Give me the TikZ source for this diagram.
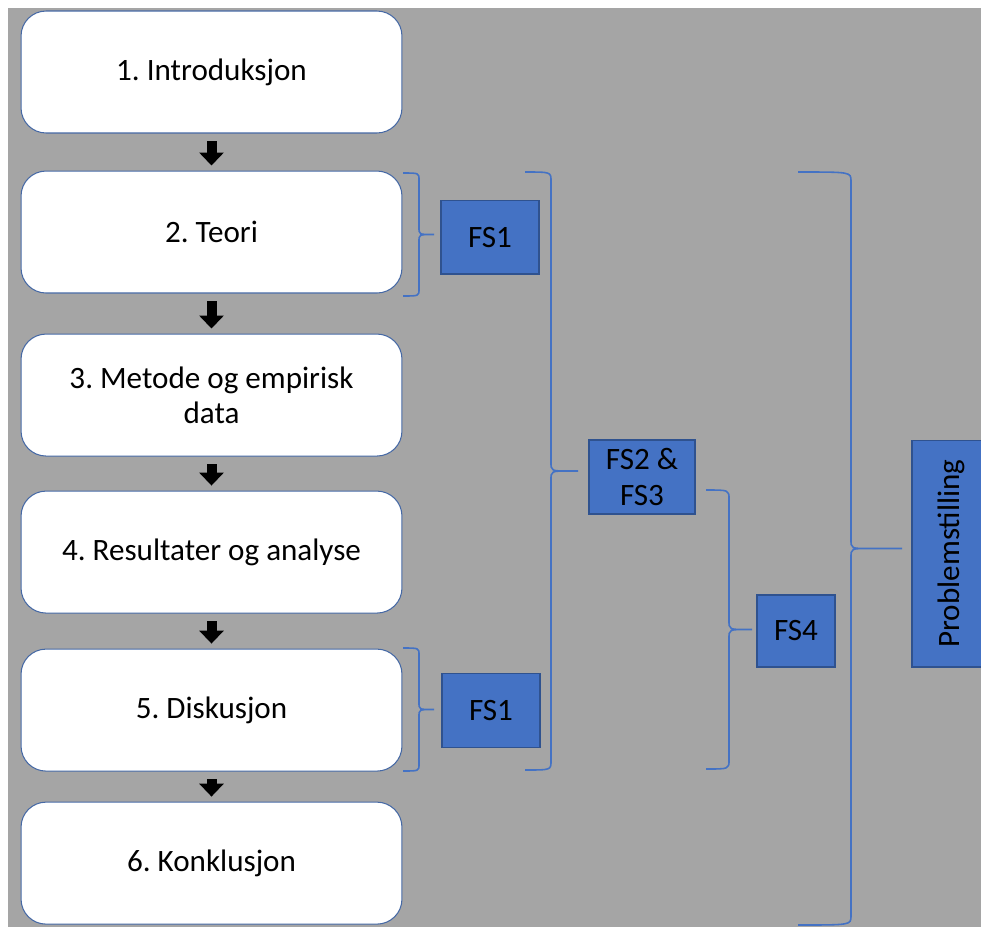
\documentclass[tikz,border=0pt]{standalone}
\usepackage{fontspec}
\setmainfont{Carlito}
\frenchspacing
\usetikzlibrary{arrows.meta,positioning}
\definecolor{bggray}{RGB}{165,165,165}
\definecolor{fsblue}{RGB}{68,114,196}
\definecolor{fsedge}{RGB}{47,82,143}
\definecolor{chapedge}{RGB}{70,105,165}

% right brace: x end, x spine, x tip, y top, y bottom, curl
\newcommand{\fsbrace}[6]{%
  \draw[brc] (#1,#4) .. controls (#2,#4) .. (#2,#4+#6)
    -- (#2,{(#4+#5)/2-#6}) .. controls (#2,{(#4+#5)/2}) .. (#2+2*#6,{(#4+#5)/2})
    -- (#3,{(#4+#5)/2}) -- (#2+2*#6,{(#4+#5)/2})
    .. controls (#2,{(#4+#5)/2}) .. (#2,{(#4+#5)/2+#6})
    -- (#2,#5-#6) .. controls (#2,#5) .. (#1,#5);}

\begin{document}
\begin{tikzpicture}[
        x=0.02cm, y=-0.02cm,
        node distance=0.7cm,
        chap/.style={draw=chapedge, line width=0.6pt, fill=white, rounded corners=0.5cm, minimum width=7.62cm, minimum height=2.44cm, align=center, font=\fontsize{17.7}{20}\selectfont},
        fs/.style={draw=fsedge, line width=0.6pt, fill=fsblue, align=center, font=\fontsize{17.7}{20}\selectfont},
        blk/.style={-{Triangle[length=0.26cm, width=0.48cm]}, line width=0.2cm, shorten <=0.15cm, shorten >=0.1cm},
        brc/.style={draw=fsblue, line width=0.9pt}
      ]
        \useasboundingbox (0,0) rectangle (981,927);
        \clip (0,0) rectangle (981,927);
        \fill[bggray] (8,8) rectangle (981,927);

        \node[chap] (intro) at (211.5,72) {1. Introduksjon};
        \node[chap, below=0.74cm of intro] (teori) {2. Teori};
        \node[chap, below=0.80cm of teori] (metode) {3. Metode og empirisk\\data};
        \node[chap, below=0.68cm of metode] (result) {4. Resultater og analyse};
        \node[chap, below=0.70cm of result] (disk) {5. Diskusjon};
        \node[chap, below=0.60cm of disk] (konkl) {6. Konklusjon};

        \foreach \a/\b in {intro/teori, teori/metode, metode/result, result/disk, disk/konkl}
          \draw[blk] (\a) -- (\b);

        \node[fs, minimum width=1.96cm, minimum height=1.48cm, right=0.76cm of teori, yshift=-0.1cm] (fs1a) {FS1};
        \node[fs, minimum width=1.96cm, minimum height=1.48cm, right=0.78cm of disk] (fs1b) {FS1};
        \node[fs, minimum width=2.12cm, minimum height=1.48cm] (fs23) at (642,477) {FS2 \&\\FS3};
        \node[fs, minimum width=1.56cm, minimum height=1.44cm] (fs4) at (796,631) {FS4};
        \node[fs, rotate=90, minimum width=4.54cm, minimum height=1.56cm] (prob) at (951,553.5) {Problemstilling};

        \fsbrace{403}{419}{434}{173}{296}{7}
        \fsbrace{403}{419}{434}{648}{771}{7}
        \fsbrace{525}{551}{578}{172}{770}{9}
        \fsbrace{706}{729}{752}{490}{769}{9}
        \fsbrace{798}{851}{902}{172}{925}{9}
      \end{tikzpicture}
\end{document}
